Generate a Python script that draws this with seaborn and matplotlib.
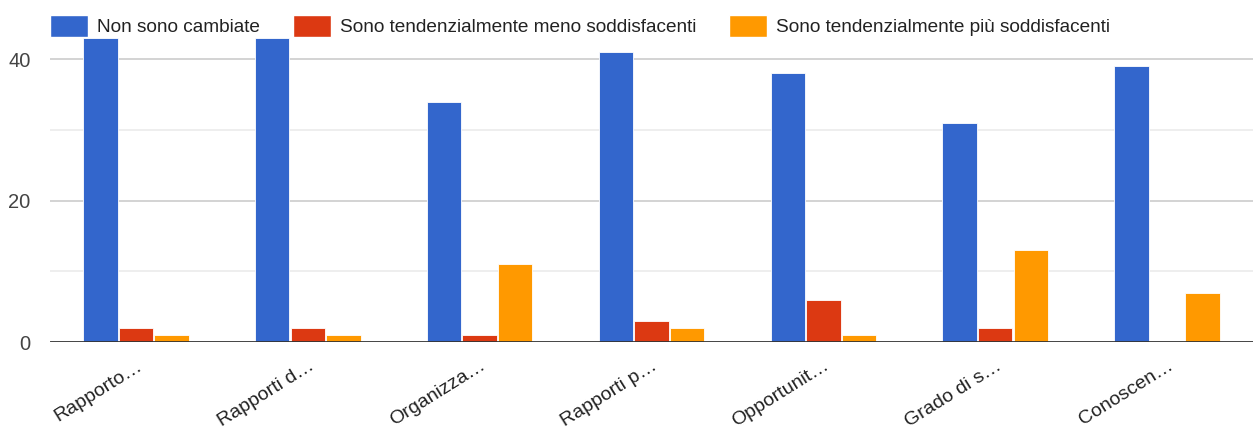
import matplotlib
matplotlib.use("Agg")
import matplotlib.pyplot as plt
import seaborn as sns
import pandas as pd

categories = ["Rapporto…", "Rapporti d…", "Organizza…", "Rapporti p…",
              "Opportunit…", "Grado di s…", "Conoscen…"]
series_names = ["Non sono cambiate",
                "Sono tendenzialmente meno soddisfacenti",
                "Sono tendenzialmente più soddisfacenti"]
non_cambiate = [43, 43, 34, 41, 38, 31, 39]
meno_soddisfacenti = [2, 2, 1, 3, 6, 2, 0]
piu_soddisfacenti = [1, 1, 11, 2, 1, 13, 7]
colors = ["#3366CC", "#DC3912", "#FF9900"]
y_ticks = [0, 20, 40]

rows = []
for name, vals in zip(series_names, [non_cambiate, meno_soddisfacenti, piu_soddisfacenti]):
    for cat, v in zip(categories, vals):
        rows.append({"categoria": cat, "serie": name, "valore": v})
df = pd.DataFrame(rows)

sns.set_theme(style="white")
plt.rcParams["font.family"] = ["Liberation Sans", "DejaVu Sans"]

fig = plt.figure(figsize=(12.53, 4.28), dpi=100)
ax = fig.add_axes([50 / 1253, 1 - 342 / 428, 1 - 50 / 1253, (342 - 38) / 428])

sns.barplot(data=df, x="categoria", y="valore", hue="serie",
            hue_order=series_names, palette=colors, order=categories,
            width=0.62, gap=0.03, edgecolor="white", linewidth=0.6,
            saturation=1, ax=ax, legend=True)

ax.set_ylim(0, 43)
ax.set_xlim(-0.5, len(categories) - 0.5)
for y in [10, 30]:
    ax.axhline(y, color="#ebebeb", lw=1.2, zorder=0)
for y in [20, 40]:
    ax.axhline(y, color="#cccccc", lw=1.2, zorder=0)
ax.axhline(0, color="#333333", lw=2, zorder=5)

ax.set_yticks(y_ticks)
ax.set_yticklabels([str(t) for t in y_ticks], fontsize=14.5, color="#444444")
ax.tick_params(axis="y", length=0, pad=14)
ax.tick_params(axis="x", length=0, pad=11)
ax.set_xticks(range(len(categories)))
ax.set_xticklabels(categories, rotation=32, ha="right", rotation_mode="anchor",
                   fontsize=14, color="#222222")
ax.set_xlabel("")
ax.set_ylabel("")
for s in ax.spines.values():
    s.set_visible(False)

ax.get_legend().remove()
handles = [plt.Rectangle((0, 0), 1, 1, facecolor=c, edgecolor="white") for c in colors]
fig.legend(handles, series_names, loc="upper left",
           bbox_to_anchor=(44 / 1253, 1 - 9 / 428), ncol=3, frameon=False,
           fontsize=13.7, handlelength=2.0, handleheight=1.4,
           handletextpad=0.5, columnspacing=1.7, labelcolor="#222222",
           borderaxespad=0, borderpad=0.3)

fig.savefig("out.png", dpi=100)
